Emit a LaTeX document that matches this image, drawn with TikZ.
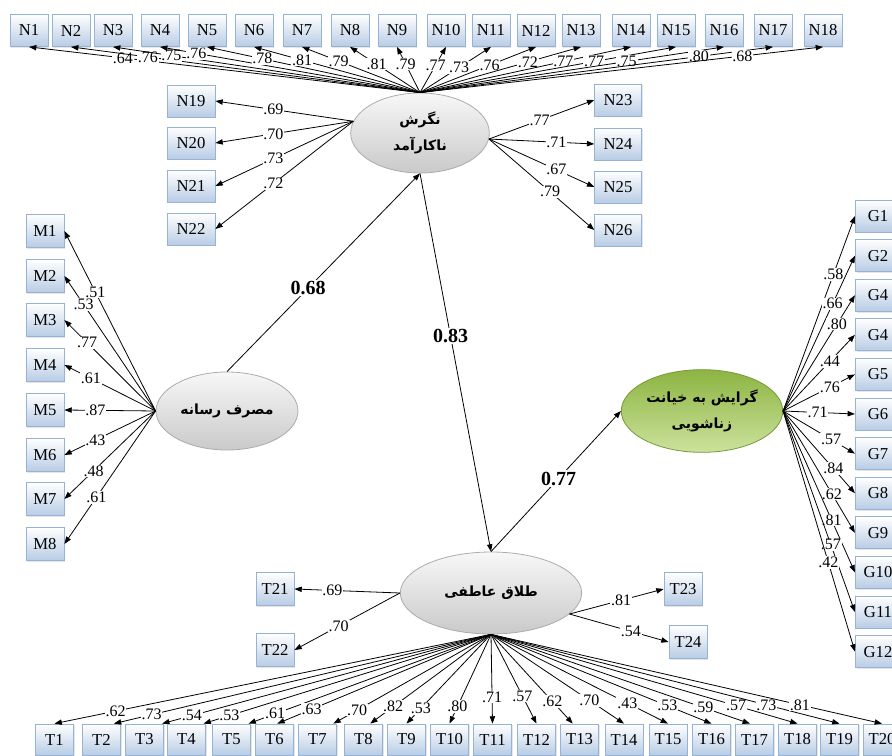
\documentclass[tikz,border=0pt]{standalone}
\usepackage{fontspec}
\setmainfont{Liberation Serif}
\newfontfamily\farsi[Script=Arabic]{DejaVu Sans}
\TeXXeTstate=1
\usetikzlibrary{arrows.meta,shapes.geometric,shadows}

\definecolor{boxline}{RGB}{150,178,212}
\definecolor{boxfill}{RGB}{184,204,229}
\definecolor{greentop}{RGB}{140,180,66}
\definecolor{greenbot}{RGB}{204,226,156}

\tikzset{
 ind/.style={draw=boxline, top color=white, bottom color=boxfill, inner sep=1pt,
  minimum width=28.5pt, minimum height=24pt, font=\fontsize{12.5}{12.5}\selectfont,
  drop shadow={shadow xshift=1pt, shadow yshift=-1pt, fill=black!20}},
 latent/.style={ellipse, draw=gray!65, top color=gray!6, bottom color=gray!42, inner sep=0pt,
  align=center, font=\farsi\bfseries\fontsize{10.5}{19}\selectfont},
 coef/.style={fill=white, inner sep=0.6pt, font=\fontsize{12}{12}\selectfont},
 pcoef/.style={fill=white, inner sep=1pt, font=\fontsize{15}{15}\selectfont\bfseries}
}

\begin{document}
\begin{tikzpicture}[x=0.75pt, y=-0.75pt, >={Triangle[length=5.5pt,width=4pt]}, line width=0.6pt]
 \fill[white] (0,0) rectangle (892,756);
 \useasboundingbox (0,0) rectangle (892,756);

 % latent variables
 \node[latent, minimum width=104pt, minimum height=60pt] (ellN) at (420,133)
  {\beginR نگرش\endR\\\beginR ناکارآمد\endR};
 \node[latent, minimum width=106.5pt, minimum height=58.5pt] (ellM) at (227,411)
  {\beginR مصرف رسانه\endR};
 \node[latent, minimum width=121pt, minimum height=62pt, draw=greentop!85!black,
  top color=greentop, bottom color=greenbot] (ellG) at (702,411)
  {\beginR گرایش به خیانت\endR\\\beginR زناشویی\endR};
 \node[latent, minimum width=136pt, minimum height=61.5pt] (ellT) at (491,593)
  {\beginR طلاق عاطفی\endR};

 \draw[->] (ellM.north) -- (ellN.south) node[pcoef, pos=0.42] {0.68};
 \draw[->] (ellN.south) -- (ellT.north) node[pcoef, pos=0.43] {0.83};
 \draw[->] (ellT.north) -- (ellG.west) node[pcoef, pos=0.52] {0.77};

 % top row
 \foreach \n/\x/\v/\p in {1/29/.64/.76, 2/71/.76/.78, 3/113/.75/.81, 4/160/.76/.86,
   5/207/.78/.74, 6/254/.81/.71, 7/302/.79/.69, 8/350/.81/.62, 9/397/.79/.62,
   10/446/.77/.6, 11/491/.73/.55, 12/536/.76/.6, 13/581/.72/.67, 14/631/.77/.68,
   15/676/.77/.68, 16/724/.75/.68, 17/773/.80/.79, 18/823/.68/.8} {
  \node[ind] (N\n) at (\x,30.5) {N\n};
  \draw[->] (ellN.north) -- (N\n.south) node[coef, pos=\p] {\v};
 }

 % N19 - N26
 \foreach \n/\y/\v in {19/101/.69, 20/143/.70, 21/186/.73, 22/229/.72} {
  \node[ind, minimum width=36pt] (N\n) at (191,\y) {N\n};
  \draw[->] (ellN.170) -- (N\n.east) node[coef, pos=0.58] {\v};
 }
 \foreach \n/\y/\v/\p in {23/100/.77/.48, 24/144/.71/.64, 25/187/.67/.64, 26/230/.79/.58} {
  \node[ind, minimum width=35pt] (N\n) at (618,\y) {N\n};
  \draw[->] (ellN.-5) -- (N\n.west) node[coef, pos=\p] {\v};
 }

 % M
 \foreach \n/\y/\v/\p in {1/231/.51/.66, 2/276/.53/.79, 3/320/.77/.75, 4/365/.61/.71,
   5/410/.87/.66, 6/455/.43/.66, 7/499/.48/.68, 8/544/.61/.65} {
  \node[ind, minimum height=24.75pt] (M\n) at (45,\y) {M\n};
  \draw[->] (ellM.west) -- (M\n.east) node[coef, pos=\p] {\v};
 }

 % G
 \foreach \n/\t/\y/\v/\p in {1/G1/216/.58/.7, 2/G2/255.6/.66/.69, 3/G4/295.2/.80/.75,
   4/G4/334.8/.44/.65, 5/G5/374.4/.76/.65, 6/G6/414/.71/.48, 7/G7/453.6/.57/.67,
   8/G8/493.2/.84/.7, 9/G9/532.8/.62/.68, 10/G10/572.4/.81/.675, 11/G11/612/.57/.665,
   12/G12/651.6/.42/.63} {
  \node[ind, minimum width=34pt] (G\n) at (878,\y) {\t};
  \draw[->] (ellG.east) -- (G\n.west) node[coef, pos=\p] {\v};
 }

 % T
 \node[ind, minimum height=24.75pt] (T21) at (275,589) {T21};
 \node[ind, minimum height=24.75pt] (T22) at (275,650) {T22};
 \node[ind, minimum height=24.75pt] (T23) at (683,589) {T23};
 \node[ind, minimum height=24.75pt] (T24) at (688,642) {T24};
 \draw[->] (ellT.west) -- (T21.east) node[coef, pos=0.64] {.69};
 \draw[->] (ellT.west) -- (T22.east) node[coef, pos=0.58] {.70};
 \draw[->] (ellT.-15) -- (T23.west) node[coef, pos=0.55] {.81};
 \draw[->] (ellT.-15) -- (T24.west) node[coef, pos=0.62] {.54};

 \foreach \n/\x/\a/\v/\p in {1/54.5/90/.62/.86, 2/101.5/52/.73/.9, 3/144.5/42/.54/.91,
   4/186.5/43/.53/.91, 5/231.5/43/.61/.89, 6/274.5/80/.63/.84, 7/317.5/45/.70/.85,
   8/363.5/67/.82/.81, 9/406.5/90/.53/.83, 10/449.5/90/.80/.81, 11/492.5/90/.71/.7,
   12/536.5/90/.57/.69, 13/579.5/113/.62/.75, 14/624/90/.70/.74, 15/668/90/.43/.77,
   16/711.5/90/.53/.8, 17/754.5/106/.59/.82, 18/797.5/90/.57/.8, 19/839.5/90/.73/.79,
   20/882/90/.81/.79} {
  \node[ind, minimum height=23.25pt] (T\n) at (\x,739.5) {T\n};
  \draw[->] (ellT.south) -- (T\n.\a) node[coef, pos=\p] {\v};
 }
\end{tikzpicture}
\end{document}
